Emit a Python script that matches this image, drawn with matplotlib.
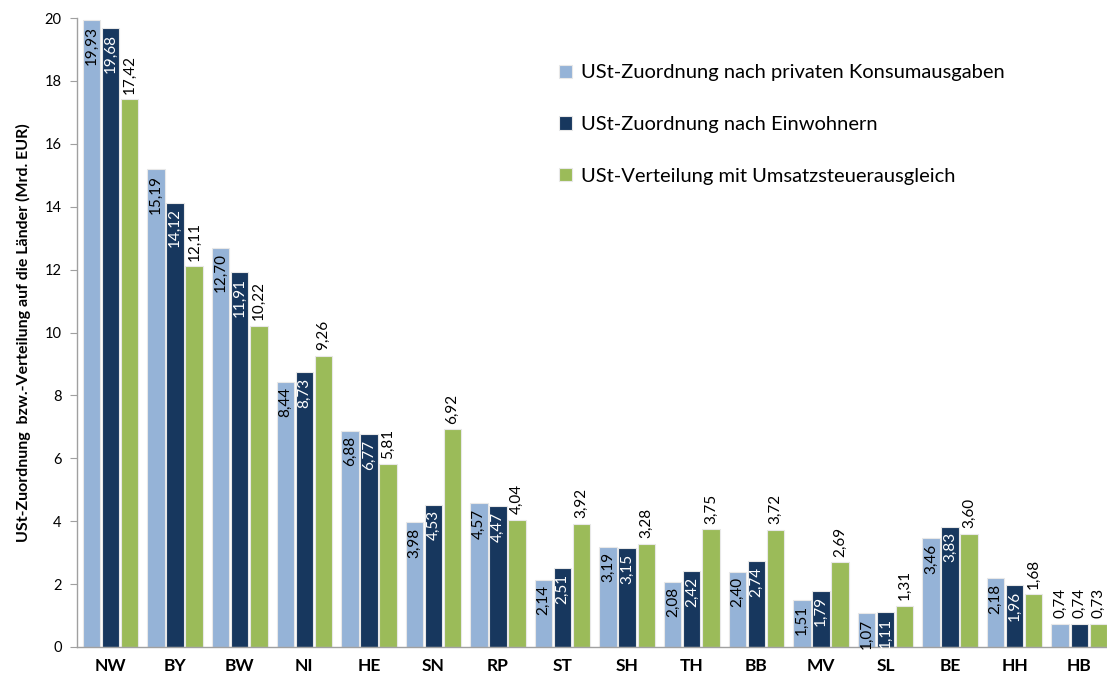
import matplotlib
matplotlib.use("Agg")
import matplotlib.pyplot as plt
import numpy as np

plt.rcParams['font.family'] = ['Lato', 'DejaVu Sans']

# Bundesländer
laender = ["NW", "BY", "BW", "NI", "HE", "SN", "RP", "ST",
           "SH", "TH", "BB", "MV", "SL", "BE", "HH", "HB"]

konsum = [19.93, 15.19, 12.70, 8.44, 6.88, 3.98, 4.57, 2.14,
          3.19, 2.08, 2.40, 1.51, 1.07, 3.46, 2.18, 0.74]
einwohner = [19.68, 14.12, 11.91, 8.73, 6.77, 4.53, 4.47, 2.51,
             3.15, 2.42, 2.74, 1.79, 1.11, 3.83, 1.96, 0.74]
ausgleich = [17.42, 12.11, 10.22, 9.26, 5.81, 6.92, 4.04, 3.92,
             3.28, 3.75, 3.72, 2.69, 1.31, 3.60, 1.68, 0.73]

serien = [
    ("USt-Zuordnung nach privaten Konsumausgaben", konsum, "#95B3D7", "black", True),
    ("USt-Zuordnung nach Einwohnern", einwohner, "#17375E", "white", True),
    ("USt-Verteilung mit Umsatzsteuerausgleich", ausgleich, "#9BBB59", "black", False),
]

fig = plt.figure(figsize=(11.07, 6.78), dpi=100)
ax = fig.add_axes([77 / 1107, 31 / 678, 1030 / 1107, 629 / 678])

x = np.arange(len(laender))
breite = 0.27
abstand = 0.295

for i, (name, werte, farbe, txtfarbe, innen) in enumerate(serien):
    pos = x + (i - 1) * abstand
    ax.bar(pos, werte, width=breite, color=farbe, label=name,
           edgecolor="#E8E8E8", linewidth=0.8, zorder=2)
    for px, v in zip(pos, werte):
        s = f"{v:.2f}".replace(".", ",")
        if innen and v > 1.0:
            ax.annotate(s, (px, v), xytext=(0, -4), textcoords="offset points",
                        rotation=90, ha="center", va="top", fontsize=11,
                        color=txtfarbe)
        else:
            ax.annotate(s, (px, v), xytext=(0, 4), textcoords="offset points",
                        rotation=90, ha="center", va="bottom", fontsize=11,
                        color="black")

ax.set_xlim(-0.52, 15.43)
ax.set_ylim(0, 20)
ax.set_yticks(np.arange(0, 21, 2))
ax.set_xticks(x)
ax.set_xticklabels(laender, fontsize=12.5, fontweight="bold")
ax.tick_params(axis="x", length=0, pad=8)
ax.tick_params(axis="y", length=5, color="#A0A0A0", labelsize=10.5, pad=6)

for side in ["top", "right"]:
    ax.spines[side].set_visible(False)
for side in ["left", "bottom"]:
    ax.spines[side].set_color("#A0A0A0")
    ax.spines[side].set_linewidth(1.0)

ax.set_ylabel("USt-Zuordnung  bzw.-Verteilung auf die Länder (Mrd. EUR)",
              fontsize=11.5, fontweight="bold", labelpad=10)

ax.legend(loc="upper left", bbox_to_anchor=(0.45, 0.955), frameon=False,
          fontsize=14.5, handlelength=0.65, handleheight=0.65, handletextpad=0.45,
          labelspacing=1.72)

fig.savefig("out.png", dpi=100)
